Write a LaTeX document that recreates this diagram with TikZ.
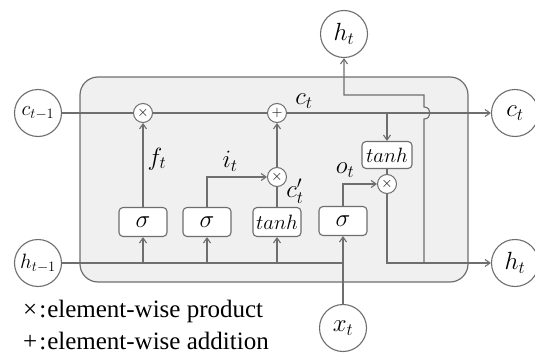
\documentclass[tikz,border=0pt]{standalone}
\usepackage{fontspec}
\setmainfont{Liberation Serif}
\newfontfamily\legfont{Liberation Serif}
\usetikzlibrary{arrows.meta}
\definecolor{linegray}{HTML}{6E6E6E}
\definecolor{boxgray}{HTML}{F0F0F0}
\begin{document}
\begin{tikzpicture}[x=1pt,y=-1pt,
  ln/.style={draw=linegray, line width=1.1pt},
  arr/.style={ln,-{Straight Barb[length=5pt,width=7pt]}},
  var/.style={circle, draw=linegray, line width=1.1pt, fill=white, minimum size=47pt, inner sep=0pt, font=\fontsize{24}{28}\selectfont},
  op/.style={circle, draw=linegray, line width=1pt, fill=white, minimum size=19pt, inner sep=0pt, font=\fontsize{14}{14}\selectfont},
  gate/.style={rectangle, rounded corners=4pt, draw=linegray, line width=1.1pt, fill=white, minimum width=48pt, minimum height=29pt, inner sep=0pt, font=\fontsize{23}{26}\selectfont},
  lbl/.style={font=\fontsize{24}{28}\selectfont, inner sep=0pt},
  leg/.style={font=\legfont\fontsize{25}{29}\selectfont, inner sep=0pt, anchor=base west}
]
\useasboundingbox (0,0) rectangle (535,356);
% cell
\node[draw=linegray, line width=1.2pt, fill=boxgray, rounded corners=18pt, minimum width=388pt, minimum height=205pt] (cell) at (274,179.5) {};
% external variables
\node[var, font=\fontsize{22}{26}\selectfont] (cprev) at (38,113) {$c_{t-1}$};
\node[var, font=\fontsize{22}{26}\selectfont] (hprev) at (38,263) {$h_{t-1}$};
\node[var] (ctout) at (515,113) {$c_t$};
\node[var] (htout) at (515,263) {$h_t$};
\node[var] (httop) at (344,34) {$h_t$};
\node[var] (xt) at (343,328) {$x_t$};
% operators
\node[op] (xf) at (143,113) {$\times$};
\node[op] (plus) at (277,113) {$+$};
\node[op] (xi) at (277,177) {$\times$};
\node[op] (xo) at (387,184) {$\times$};
% gates
\node[gate] (sf) at (143,222) {$\sigma$};
\node[gate] (si) at (207,222) {$\sigma$};
\node[gate, font=\fontsize{20}{24}\selectfont] (tc) at (277,222) {$tanh$};
\node[gate] (so) at (343,221) {$\sigma$};
\node[gate, font=\fontsize{20}{24}\selectfont, minimum width=50pt, minimum height=27pt] (to) at (387,155) {$tanh$};
% coordinates
\coordinate (tap) at (387,113);
\coordinate (hj) at (343,263);
\coordinate (br) at (424,263);
% cell state line
\draw[ln] (cprev) -- (xf);
\draw[ln] (xf) -- (plus);
\draw[arr] (plus) -- (ctout);
\draw[arr] (tap) -- (to);
% gates
\draw[arr] (sf) -- (xf);
\draw[arr] (si.north) |- (xi);
\draw[ln] (tc) -- (xi);
\draw[arr] (xi) -- (plus);
\draw[arr] (so.north) |- (xo);
\draw[ln] (to) -- (xo);
\draw[arr] (xo) |- (htout);
% hidden input line
\draw[ln] (hprev) -- (hj);
\draw[arr] (xt) -- (so);
\draw[arr] (sf |- hj) -- (sf);
\draw[arr] (si |- hj) -- (si);
\draw[arr] (tc |- hj) -- (tc);
% branch to top h_t with hop over c_t line
\draw[arr] (br) -- (424,119) .. controls (432,119) and (432,107) .. (424,107) -- (424,95) -| (httop);
% labels
\node[lbl] (lf) at (157,159) {$f_t$};
\node[lbl] (li) at (230,161) {$i_t$};
\node[lbl] (lc2) at (295,191) {$c'_t$};
\node[lbl] (lc) at (304,101) {$c_t$};
\node[lbl] (lo) at (345,170) {$o_t$};
% legend
\node[leg] (leg1) at (23,317) {×\hspace{2pt}:\hspace{1pt}element-wise product};
\node[leg] (leg2) at (23,349) {+\hspace{2pt}:\hspace{1pt}element-wise addition};
\end{tikzpicture}
\end{document}
